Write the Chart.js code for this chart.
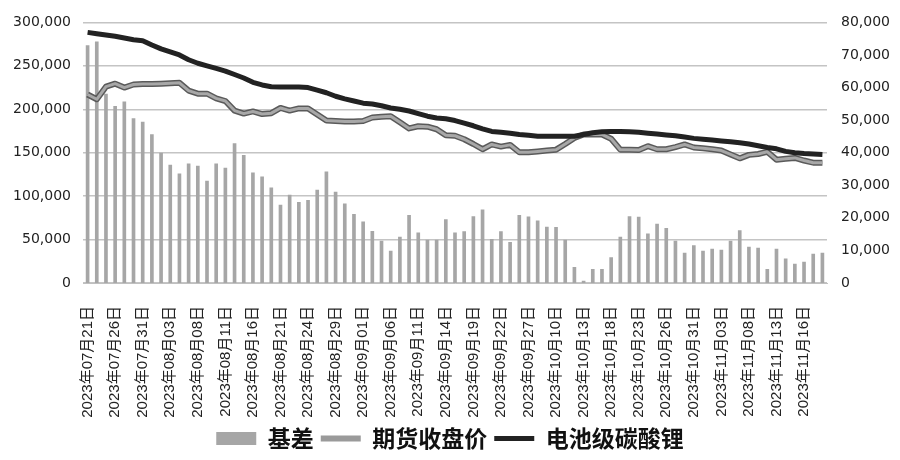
<!DOCTYPE html>
<html>
<head>
<meta charset="utf-8">
<script src="https://cdn.jsdelivr.net/npm/chart.js@4.4.0/dist/chart.umd.min.js"></script>
<style>
  html, body { margin: 0; padding: 0; background: #fff; }
  #wrap { width: 900px; height: 460px; }
</style>
</head>
<body>
<div id="wrap"><canvas id="chart"></canvas></div>
<script>
// 交易日
const dates = [
  "2023年07月21日","2023年07月24日","2023年07月25日","2023年07月26日","2023年07月27日","2023年07月28日","2023年07月31日",
  "2023年08月01日","2023年08月02日","2023年08月03日","2023年08月04日","2023年08月07日","2023年08月08日","2023年08月09日",
  "2023年08月10日","2023年08月11日","2023年08月14日","2023年08月15日","2023年08月16日","2023年08月17日","2023年08月18日",
  "2023年08月21日","2023年08月22日","2023年08月23日","2023年08月24日","2023年08月25日","2023年08月28日","2023年08月29日",
  "2023年08月30日","2023年08月31日","2023年09月01日","2023年09月04日","2023年09月05日","2023年09月06日","2023年09月07日",
  "2023年09月08日","2023年09月11日","2023年09月12日","2023年09月13日","2023年09月14日","2023年09月15日","2023年09月18日",
  "2023年09月19日","2023年09月20日","2023年09月21日","2023年09月22日","2023年09月25日","2023年09月26日","2023年09月27日",
  "2023年09月28日","2023年10月09日","2023年10月10日","2023年10月11日","2023年10月12日","2023年10月13日","2023年10月16日",
  "2023年10月17日","2023年10月18日","2023年10月19日","2023年10月20日","2023年10月23日","2023年10月24日","2023年10月25日",
  "2023年10月26日","2023年10月27日","2023年10月30日","2023年10月31日","2023年11月01日","2023年11月02日","2023年11月03日",
  "2023年11月06日","2023年11月07日","2023年11月08日","2023年11月09日","2023年11月10日","2023年11月13日","2023年11月14日",
  "2023年11月15日","2023年11月16日","2023年11月17日","2023年11月20日"
];

// 基差 (右轴)
const basis = [
  72900, 74000, 58000, 54200, 55600, 50500, 49400, 45600, 39900, 36200,
  33500, 36600, 35900, 31300, 36600, 35300, 42800, 39200, 33800, 32600,
  29200, 23900, 27000, 24800, 25400, 28500, 34100, 27900, 24300, 21100,
  18800, 15900, 12900, 9800, 14100, 20800, 15400, 13200, 13200, 19500,
  15400, 15800, 20400, 22500, 13400, 15800, 12500, 20800, 20300, 19100,
  17200, 17100, 13200, 4800, 600, 4200, 4200, 7800, 14100, 20400,
  20200, 15100, 18100, 16800, 12900, 9200, 11500, 9800, 10400, 10100,
  12900, 16100, 11000, 10700, 4200, 10400, 7400, 5800, 6400, 8900, 9200
];

// 期货收盘价 (左轴)
const futures = [
  217000, 211500, 226000, 229500, 225000, 228500, 229000, 229000, 229500, 230000,
  230500, 221500, 218000, 218000, 212500, 209500, 198500, 195000, 197500, 194500,
  195500, 201500, 198500, 201000, 201000, 194000, 187000, 186500, 186000, 186000,
  186500, 190500, 191500, 192000, 185000, 178000, 180500, 180000, 177000, 170000,
  169500, 165500, 160000, 154000, 159500, 157000, 159000, 150500, 150500, 151500,
  152500, 153500, 160000, 167000, 171000, 171000, 171000, 166000, 153500, 153500,
  153000, 157500, 154000, 154000, 156500, 159500, 156000, 155000, 154000, 152500,
  148000, 143500, 147500, 148500, 151000, 142000, 143000, 144000, 141000, 138500, 138500
];

// 电池级碳酸锂 (左轴)
const spot = [
  288500, 287000, 285500, 284000, 282000, 280000, 279000, 274000, 269500, 266000,
  262500, 257000, 253000, 250000, 247000, 244000, 240000, 236000, 231000, 228000,
  226000, 225500, 225500, 225500, 225000, 222000, 219000, 215000, 212000, 209500,
  207000, 206000, 204000, 201500, 200000, 198000, 195000, 192000, 190000, 189000,
  187000, 184000, 181000, 177500, 174500, 173500, 172500, 171000, 170000, 169000,
  169000, 169000, 169000, 169000, 171000, 173000, 174000, 174500, 174500, 174000,
  173500, 172500, 171500, 170500, 169500, 168000, 166500, 165500, 164500, 163500,
  162500, 161500, 160000, 158000, 156000, 154500, 151500, 150000, 149000, 148500, 148000
];

const tickFont = { family: "'DejaVu Sans', sans-serif", size: 14 };
const fmt = v => v.toLocaleString("en-US");

new Chart(document.getElementById("chart"), {
  type: "bar",
  data: {
    labels: dates,
    datasets: [
      {
        label: "基差",
        data: basis,
        yAxisID: "y1",
        backgroundColor: "#a6a6a6",
        barThickness: 3,
        pointStyle: "rect",
        order: 4
      },
      {
        type: "line",
        label: "outline",
        data: futures,
        yAxisID: "y",
        borderColor: "#5a5a5a",
        borderWidth: 6,
        pointRadius: 0,
        tension: 0,
        borderJoinStyle: "round",
        order: 3
      },
      {
        type: "line",
        label: "期货收盘价",
        data: futures,
        yAxisID: "y",
        borderColor: "#a8a8a8",
        borderWidth: 3,
        pointRadius: 0,
        pointStyle: "line",
        tension: 0,
        borderJoinStyle: "round",
        order: 2
      },
      {
        type: "line",
        label: "电池级碳酸锂",
        data: spot,
        yAxisID: "y",
        borderColor: "#222",
        borderWidth: 5,
        pointRadius: 0,
        pointStyle: "line",
        tension: 0,
        borderJoinStyle: "round",
        order: 1
      }
    ]
  },
  options: {
    responsive: true,
    maintainAspectRatio: false,
    animation: false,
    layout: { padding: { top: 21, bottom: 0, left: 0, right: 0 } },
    plugins: {
      tooltip: { enabled: false },
      legend: {
        position: "bottom",
        labels: {
          usePointStyle: true,
          boxWidth: 40,
          boxHeight: 13,
          pointStyleWidth: 40,
          padding: 7,
          color: "#111",
          font: { family: "'Noto Sans CJK SC', sans-serif", size: 23, weight: "bold" },
          filter: item => item.text !== "outline",
          sort: (a, b) => a.datasetIndex - b.datasetIndex,
          generateLabels: chart => {
            const items = Chart.defaults.plugins.legend.labels.generateLabels(chart);
            items.forEach(it => {
              if (it.text === "期货收盘价") { it.strokeStyle = "#9a9a9a"; it.lineWidth = 6; }
              if (it.text === "电池级碳酸锂") { it.lineWidth = 5; }
            });
            return items;
          }
        }
      }
    },
    scales: {
      x: {
        grid: { display: false },
        border: { color: "#c0c0c0" },
        ticks: {
          autoSkip: false,
          maxRotation: 90,
          minRotation: 90,
          padding: 15,
          color: "#222",
          font: { family: "'Liberation Sans', 'Noto Sans CJK SC', sans-serif", size: 15 },
          callback: (v, i) => (i % 3 === 0 ? dates[i] : "")
        },
        afterFit: s => { s.height = 137; }
      },
      y: {
        position: "left",
        min: 0,
        max: 300000,
        grid: { color: "#c4c4c4", lineWidth: 1.5, drawTicks: false },
        border: { display: false },
        ticks: { stepSize: 50000, padding: 12, color: "#222", font: tickFont, callback: fmt },
        afterFit: s => { s.width = 83; }
      },
      y1: {
        position: "right",
        min: 0,
        max: 80000,
        grid: { display: false, drawTicks: false },
        border: { display: false },
        ticks: { stepSize: 10000, padding: 14, color: "#222", font: tickFont, callback: fmt },
        afterFit: s => { s.width = 73; }
      }
    }
  }
});
</script>
</body>
</html>
